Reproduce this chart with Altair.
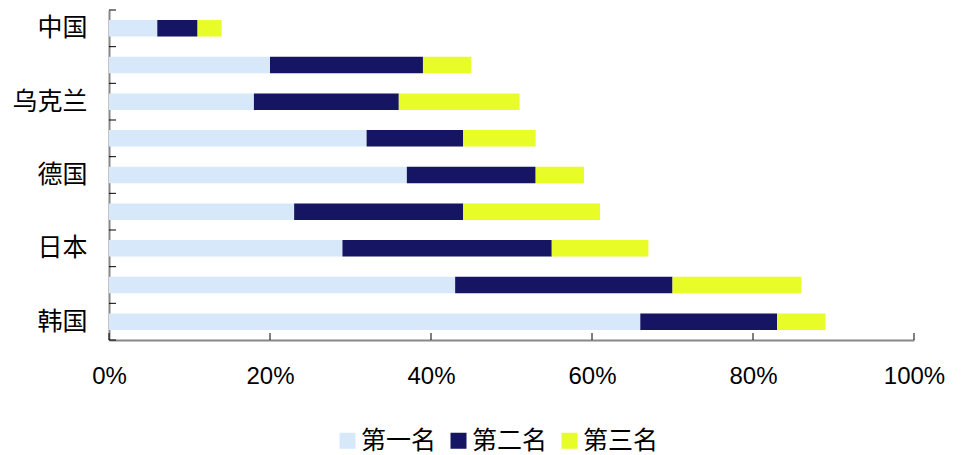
import altair as alt
import pandas as pd

countries = ["中国", "美国", "乌克兰", "俄罗斯", "德国", "法国", "日本", "意大利", "韩国"]
shown = ["中国", "乌克兰", "德国", "日本", "韩国"]
ranks = ["第一名", "第二名", "第三名"]
first = [6, 20, 18, 32, 37, 23, 29, 43, 66]
second = [5, 19, 18, 12, 16, 21, 26, 27, 17]
third = [3, 6, 15, 9, 6, 17, 12, 16, 6]
colors = ["#D6E8FA", "#151563", "#E8FC27"]
x_ticks = [0, 20, 40, 60, 80, 100]

rows = []
for i, c in enumerate(countries):
    for k, vals in enumerate([first, second, third]):
        rows.append({"country": c, "rank": ranks[k], "order": k, "value": vals[i]})
df = pd.DataFrame(rows)
xt_df = pd.DataFrame({"t": x_ticks})
yt_df = pd.DataFrame({"b": list(range(len(countries) + 1))})

font = "Noto Sans CJK SC"
latin = "Liberation Sans"
yscale = alt.Scale(domain=countries, paddingInner=0.55, paddingOuter=0.275)
xscale = alt.Scale(domain=[0, 100], nice=False)
shown_js = "[" + ",".join("'" + s + "'" for s in shown) + "]"

bars = alt.Chart(df).mark_bar().encode(
    y=alt.Y("country:N", scale=yscale, sort=countries,
            axis=alt.Axis(title=None, ticks=False, domainColor="#888888", domainWidth=2,
                          labelFont=font, labelFontSize=25, labelColor="black",
                          labelPadding=22,
                          labelExpr="indexof(" + shown_js + ", datum.value) >= 0 ? datum.value : ''")),
    x=alt.X("value:Q", stack="zero", scale=xscale,
            axis=alt.Axis(title=None, ticks=False, grid=False, values=x_ticks,
                          domainColor="#888888", domainWidth=2, labelFlush=False,
                          labelFont=latin, labelFontSize=24, labelColor="black",
                          labelPadding=24, labelExpr="datum.value + '%'")),
    color=alt.Color("rank:N", scale=alt.Scale(domain=ranks, range=colors),
                    legend=alt.Legend(title=None, orient="none", legendX=226, legendY=418,
                                      direction="horizontal", symbolType="square",
                                      symbolSize=256, symbolStrokeWidth=0,
                                      labelFont=font, labelFontSize=25, labelColor="black",
                                      labelOffset=1, columnPadding=9, padding=0)),
    order=alt.Order("order:Q"),
)

xticks = alt.Chart(xt_df).mark_rule(color="black", strokeWidth=1).encode(
    x=alt.X("t:Q", scale=xscale, axis=None),
    y=alt.value(323),
    y2=alt.value(330),
)

yticks = alt.Chart(yt_df).mark_rule(color="black", strokeWidth=1).encode(
    y=alt.Y("b:Q", scale=alt.Scale(domain=[0, len(countries)], nice=False, zero=False), axis=None),
    x=alt.value(0),
    x2=alt.value(7),
)

chart = alt.layer(bars, xticks, yticks).resolve_scale(y="independent").resolve_axis(
    x="independent", y="independent"
).properties(
    width=805, height=330,
    autosize=alt.AutoSizeParams(type="none"),
    padding={"left": 109, "top": 10, "right": 48, "bottom": 115},
).configure_view(stroke=None)

chart.save("out.html", embed_options={"renderer": "svg", "actions": False})
